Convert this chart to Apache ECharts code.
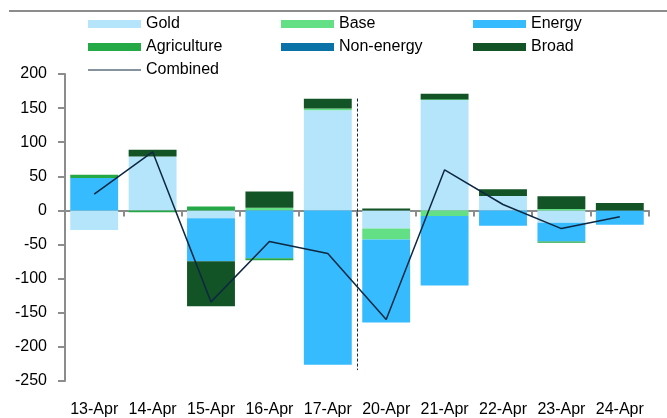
<!DOCTYPE html>
<html lang="en">
<head>
<meta charset="UTF-8">
<title>Commodity flows</title>
<script src="https://cdn.jsdelivr.net/npm/echarts@6/dist/echarts.min.js"></script>
<style>
  html, body { margin: 0; padding: 0; background: #fff; }
</style>
</head>
<body>
<div id="main" style="width:667px;height:418px;"></div>
<script type="text/javascript">
    // values
    var days = ['13-Apr', '14-Apr', '15-Apr', '16-Apr', '17-Apr', '20-Apr', '21-Apr', '22-Apr', '23-Apr', '24-Apr'];
    var gold = [-28.6, 79, -11.6, 0, 147, -26.6, 162, 21, -18, 0];
    var base = [0, 0, 0, 4, 2.4, -16, -8, 0, 2, 0];
    var energy = [47.5, 0, -63, -70, -226, -121.5, -102, -22.5, -27.5, -21];
    var agriculture = [5, -2.5, 5.8, -3, 0, 0, 1, 0, -2, 0];
    var nonEnergy = [0, 0, 0, 0, 0, 0, 0, 0, 0, 0];
    var broad = [0, 10, -66, 23.6, 14.5, 3, 8, 10, 18.8, 11];
    var combined = [24, 86, -134, -45.5, -63, -160, 59.6, 8.7, -26.6, -9.2];
    var yTicks = {min: -250, max: 200, step: 50};
    // dotted separator between 17-Apr and 20-Apr, from/to these y values
    var splitAfter = '17-Apr';
    var splitRange = [164, -234];

    var font = 'Liberation Sans, Arial, sans-serif';
    var myChart = echarts.init(document.getElementById('main'));

    function barSeries(name, data, color) {
        return {
            name: name,
            type: 'bar',
            stack: 'all',
            xAxisIndex: 0,
            barCategoryGap: '18%',
            itemStyle: {color: color},
            data: data
        };
    }

    var legendText = {fontSize: 16, color: '#000', fontFamily: font};
    function legendCol(left, names) {
        return {
            orient: 'vertical',
            left: left,
            top: 11,
            itemWidth: 53,
            itemHeight: 8,
            itemGap: 7,
            textStyle: legendText,
            selectedMode: false,
            data: names
        };
    }
    // thin horizontal line icon (bounding box 53x8 so it isn't stretched)
    var lineIcon = 'path://M0,0L0.01,0L0.01,0.01Z M0,8L0.01,8L0.01,7.99Z M0,3.4L53,3.4L53,4.6L0,4.6Z';
    var topRule = {
        type: 'rect',
        shape: {x: 9, y: 10, width: 658, height: 2},
        style: {fill: '#8c8c8c'}
    };

    var option = {
        animation: false,
        textStyle: {fontFamily: font},
        graphic: [topRule],
        legend: [
            legendCol(83, [{name: 'Gold', icon: 'rect'}, {name: 'Agriculture', icon: 'rect'}, {name: 'Combined', icon: lineIcon}]),
            legendCol(276, [{name: 'Base', icon: 'rect'}, {name: 'Non-energy', icon: 'rect'}]),
            legendCol(468, [{name: 'Energy', icon: 'rect'}, {name: 'Broad', icon: 'rect'}])
        ],
        grid: {left: 65, right: 18, top: 74, bottom: 34},
        xAxis: [{
            type: 'category',
            data: days,
            axisLine: {onZero: true, lineStyle: {color: '#8c8c8c', width: 2}},
            axisTick: {show: true, length: 6, lineStyle: {color: '#8c8c8c', width: 2}},
            axisLabel: {show: false}
        }, {
            type: 'category',
            data: days,
            position: 'bottom',
            axisLine: {show: false, onZero: false},
            axisTick: {show: false},
            axisLabel: {interval: 0, margin: 21, fontSize: 16, color: '#000', fontFamily: font}
        }],
        yAxis: {
            type: 'value',
            min: yTicks.min,
            max: yTicks.max,
            interval: yTicks.step,
            splitLine: {show: false},
            axisLine: {show: true, lineStyle: {color: '#8c8c8c', width: 2}},
            axisTick: {show: true, length: 7, lineStyle: {color: '#8c8c8c', width: 2}},
            axisLabel: {margin: 18, fontSize: 16, color: '#000', fontFamily: font}
        },
        series: [
            barSeries('Gold', gold, '#b4e5fb'),
            barSeries('Base', base, '#63df85'),
            barSeries('Energy', energy, '#36bbfe'),
            barSeries('Agriculture', agriculture, '#25a846'),
            barSeries('Non-energy', nonEnergy, '#0b72a8'),
            barSeries('Broad', broad, '#125426'),
            {
                name: 'Combined',
                type: 'line',
                xAxisIndex: 0,
                symbol: 'none',
                lineStyle: {color: '#0e2841', width: 1.5},
                itemStyle: {color: '#0e2841'},
                data: combined,
                z: 5
            }
        ]
    };
    myChart.setOption(option);

    // place the separator halfway between the two category centres
    var i = days.indexOf(splitAfter);
    var a = myChart.convertToPixel({xAxisIndex: 0, yAxisIndex: 0}, [i, splitRange[0]]);
    var b = myChart.convertToPixel({xAxisIndex: 0, yAxisIndex: 0}, [i + 1, splitRange[1]]);
    var midX = Math.round((a[0] + b[0]) / 2) + 0.5;
    myChart.setOption({
        graphic: [topRule, {
            type: 'line',
            shape: {x1: midX, y1: a[1], x2: midX, y2: b[1]},
            style: {stroke: '#0e2841', lineWidth: 1, lineDash: [3, 2]},
            z: 10
        }]
    });
</script>
</body>
</html>
